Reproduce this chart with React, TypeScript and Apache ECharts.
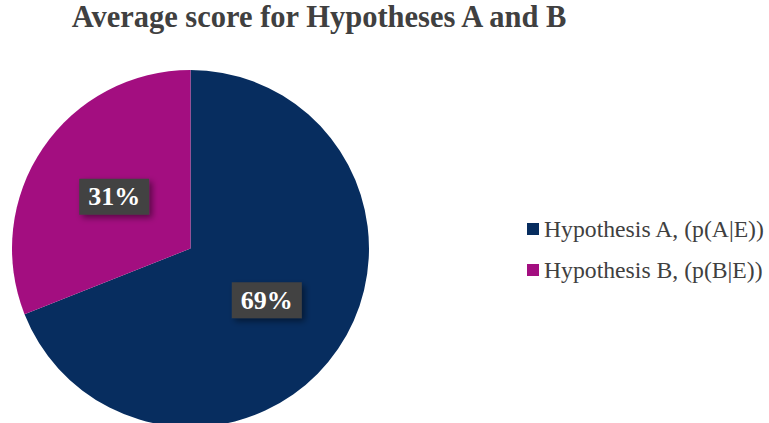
import React, { useEffect, useRef } from "react";
import * as echarts from "echarts";

const categories = ["Hypothesis A, (p(A|E))", "Hypothesis B, (p(B|E))"];
const values = [69, 31];
const colors = ["#072d5f", "#a30e80"];
const titleText = "Average score for Hypotheses A and B";
const FONT = "'Liberation Serif', 'Times New Roman', Times, serif";

export default function App() {
  const ref = useRef<HTMLDivElement>(null);
  useEffect(() => {
    document.body.style.margin = "0";
    const chart = echarts.init(ref.current!, null, { renderer: "svg" });
    chart.setOption({
      animation: false,
      backgroundColor: "#ffffff",
      title: {
        text: titleText,
        left: 314,
        textAlign: "center",
        top: -4,
        textStyle: {
          fontFamily: FONT,
          fontWeight: "bold",
          fontSize: 30.5,
          color: "#404040",
        },
      },
      legend: {
        orient: "vertical",
        left: 522,
        top: 212,
        itemWidth: 12,
        itemHeight: 12,
        itemGap: 17,
        icon: "rect",
        textStyle: {
          fontFamily: FONT,
          fontSize: 23.7,
          color: "#404040",
        },
        data: categories,
      },
      series: [
        {
          type: "pie",
          center: [190.5, 248.5],
          radius: [0, 178.5],
          startAngle: 90,
          clockwise: true,
          data: categories.map((c, i) => ({
            name: c,
            value: values[i],
            itemStyle: { color: colors[i] },
          })),
          label: {
            show: true,
            position: "inside",
            formatter: (p: any) => p.value + "%",
            fontFamily: FONT,
            fontWeight: "bold",
            fontSize: 26,
            color: "#ffffff",
            backgroundColor: "#424242",
            padding: [5, 9, 5, 9],
            lineHeight: 26,
            shadowColor: "rgba(0,0,0,0.45)",
            shadowBlur: 6,
            shadowOffsetX: 3,
            shadowOffsetY: 3,
          },
          labelLine: { show: false },
          emphasis: { disabled: true },
        },
      ],
    });
    return () => chart.dispose();
  }, []);
  return (
    <div
      ref={ref}
      style={{ position: "absolute", left: 0, top: 0, width: 769, height: 423 }}
    />
  );
}
